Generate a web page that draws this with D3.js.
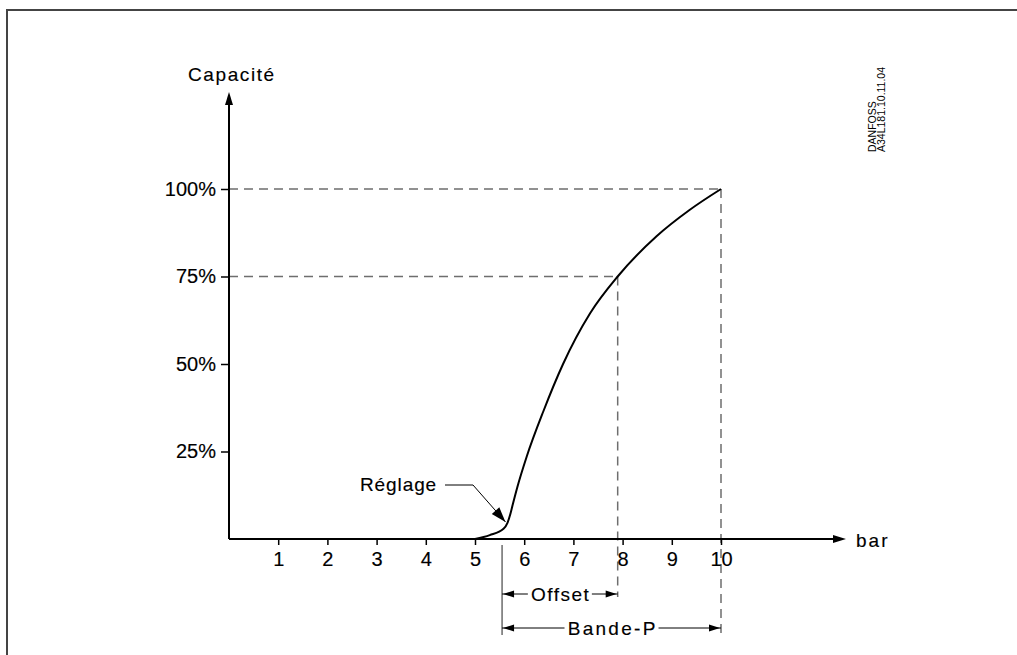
<!DOCTYPE html>
<html>
<head>
<meta charset="utf-8">
<script src="https://cdn.jsdelivr.net/npm/d3@7"></script>
<style>
  html, body { margin: 0; padding: 0; background: #fff; }
  svg { display: block; }
  text { font-family: "Liberation Sans", Arial, sans-serif; fill: #000; }
  .lbl { stroke: #000; stroke-width: 0.15px; }
</style>
</head>
<body>
<svg id="chart" width="1017" height="655"></svg>
<script>
// pressure (bar) ticks and capacity (%) ticks
const barTicks = [1, 2, 3, 4, 5, 6, 7, 8, 9, 10];
const capTicks = [25, 50, 75, 100];
const capTickLabels = ["25%", "50%", "75%", "100%"];

// capacity curve
const curveBar = [5.0, 5.3, 5.58, 5.66, 5.72, 5.77, 5.86, 6.05, 6.39, 6.79, 7.34, 7.9, 8.69, 9.36, 10];
const curvePct = [0, 1.1, 2.9, 4.6, 7.2, 10, 14.8, 23.5, 36.5, 50, 64.5, 75, 86.5, 94, 100];

// setting, offset and P-band
const setPoint = 5.55;
const guideBar = [7.9, 10];
const guidePct = [75, 100];

const svg = d3.select("#chart");
const width = 1017, height = 655;

const x = d3.scaleLinear().domain([0, 10]).range([229, 721]);
const y = d3.scaleLinear().domain([0, 100]).range([539, 189]);

// frame (only top and left edges show)
svg.append("path")
    .attr("d", `M7,${height} L7,10 L${width},10`)
    .attr("fill", "none")
    .attr("stroke", "#444")
    .attr("stroke-width", 2);

// dashed guides
const dash = "9,6";
guideBar.forEach((b, i) => {
    svg.append("line")
        .attr("x1", x(0)).attr("x2", x(b))
        .attr("y1", y(guidePct[i])).attr("y2", y(guidePct[i]))
        .attr("stroke", "#6e6e6e").attr("stroke-width", 1.5)
        .attr("stroke-dasharray", dash);
});
const offsetY = 594, bandY = 628;
svg.append("line")
    .attr("x1", x(guideBar[0])).attr("x2", x(guideBar[0]))
    .attr("y1", y(guidePct[0])).attr("y2", offsetY + 3)
    .attr("stroke", "#6e6e6e").attr("stroke-width", 1.5)
    .attr("stroke-dasharray", dash);
svg.append("line")
    .attr("x1", x(guideBar[1])).attr("x2", x(guideBar[1]))
    .attr("y1", y(guidePct[1])).attr("y2", bandY + 7)
    .attr("stroke", "#6e6e6e").attr("stroke-width", 1.5)
    .attr("stroke-dasharray", dash);

// axes
const yAxis = d3.axisLeft(y)
    .tickValues(capTicks)
    .tickFormat((d, i) => capTickLabels[i])
    .tickSize(8)
    .tickPadding(5);
const xAxis = d3.axisBottom(x)
    .tickValues(barTicks)
    .tickFormat(d3.format("d"))
    .tickSize(6)
    .tickPadding(7);

const gy = svg.append("g").attr("transform", `translate(${x(0)},0)`).call(yAxis);
const gx = svg.append("g").attr("transform", `translate(0,${y(0)})`).call(xAxis);
[gx, gy].forEach(g => {
    g.select(".domain").remove();
    g.selectAll(".tick line").attr("stroke", "#000").attr("stroke-width", 1.5);
    g.selectAll(".tick text")
        .attr("class", "lbl")
        .style("font-family", "'Liberation Sans', Arial, sans-serif")
        .style("font-size", "20px")
        .attr("fill", "#000");
});

// axis lines with arrow heads
svg.append("line")
    .attr("x1", x(0)).attr("x2", x(0))
    .attr("y1", y(0)).attr("y2", 100)
    .attr("stroke", "#000").attr("stroke-width", 2);
svg.append("path")
    .attr("d", `M${x(0)},92 L${x(0) - 4},105 L${x(0) + 4},105 Z`)
    .attr("fill", "#000");
svg.append("line")
    .attr("x1", x(0)).attr("x2", 838)
    .attr("y1", y(0)).attr("y2", y(0))
    .attr("stroke", "#000").attr("stroke-width", 2);
svg.append("path")
    .attr("d", `M846,${y(0)} L833,${y(0) - 4} L833,${y(0) + 4} Z`)
    .attr("fill", "#000");

svg.append("text")
    .attr("class", "lbl")
    .attr("x", 188).attr("y", 81)
    .style("font-size", "19px").style("letter-spacing", "1.6px")
    .text("Capacité");
svg.append("text")
    .attr("class", "lbl")
    .attr("x", 856).attr("y", 547)
    .style("font-size", "19px").style("letter-spacing", "2px")
    .text("bar");

// capacity curve
const line = d3.line()
    .x(d => x(d[0]))
    .y(d => y(d[1]))
    .curve(d3.curveMonotoneX);
svg.append("path")
    .datum(d3.zip(curveBar, curvePct))
    .attr("d", line)
    .attr("fill", "none")
    .attr("stroke", "#000")
    .attr("stroke-width", 2);

// Réglage leader
const tip = [x(curveBar[3]) - 2, y(curvePct[3]) - 1];
const elbow = [473, 485];
svg.append("path")
    .attr("d", `M445,485 L${elbow[0]},${elbow[1]} L${tip[0]},${tip[1]}`)
    .attr("fill", "none").attr("stroke", "#000").attr("stroke-width", 1);
{
    const ang = Math.atan2(tip[1] - elbow[1], tip[0] - elbow[0]);
    const L = 15, w = 5;
    const bx = tip[0] - L * Math.cos(ang), by = tip[1] - L * Math.sin(ang);
    const px = -Math.sin(ang) * w, py = Math.cos(ang) * w;
    svg.append("path")
        .attr("d", `M${tip[0]},${tip[1]} L${bx + px},${by + py} L${bx - px},${by - py} Z`)
        .attr("fill", "#000");
}
svg.append("text")
    .attr("class", "lbl")
    .attr("x", 360).attr("y", 491)
    .style("font-size", "19px").style("letter-spacing", "0.9px")
    .text("Réglage");

// Offset and Bande-P dimensions
svg.append("line")
    .attr("x1", x(setPoint)).attr("x2", x(setPoint))
    .attr("y1", 545).attr("y2", bandY + 7)
    .attr("stroke", "#222").attr("stroke-width", 1);

function dimension(x0, x1, yy, label, labelW, spacing) {
    const mid = (x0 + x1) / 2;
    svg.append("line").attr("x1", x0).attr("x2", mid - labelW / 2 - 2)
        .attr("y1", yy).attr("y2", yy).attr("stroke", "#000").attr("stroke-width", 1);
    svg.append("line").attr("x1", mid + labelW / 2 + 2).attr("x2", x1)
        .attr("y1", yy).attr("y2", yy).attr("stroke", "#000").attr("stroke-width", 1);
    svg.append("path")
        .attr("d", `M${x0 + 1},${yy} L${x0 + 12},${yy - 3.5} L${x0 + 12},${yy + 3.5} Z`)
        .attr("fill", "#000");
    svg.append("path")
        .attr("d", `M${x1 - 1},${yy} L${x1 - 12},${yy - 3.5} L${x1 - 12},${yy + 3.5} Z`)
        .attr("fill", "#000");
    svg.append("text")
        .attr("class", "lbl")
        .attr("x", mid + spacing / 2).attr("y", yy + 7)
        .attr("text-anchor", "middle")
        .style("font-size", "19px").style("letter-spacing", spacing + "px")
        .text(label);
}
dimension(x(setPoint), x(guideBar[0]), offsetY, "Offset", 60, 1.5);
dimension(x(setPoint), x(guideBar[1]), bandY, "Bande-P", 90, 2.3);

// drawing reference, rotated
const ref = svg.append("g").attr("transform", "translate(876,152) rotate(-90)");
ref.append("text").attr("x", 0).attr("y", 0)
    .style("font-size", "10.5px")
    .text("DANFOSS");
ref.append("text").attr("x", 0).attr("y", 9)
    .style("font-size", "10.5px")
    .text("A34L181.10.11.04");
</script>
</body>
</html>
